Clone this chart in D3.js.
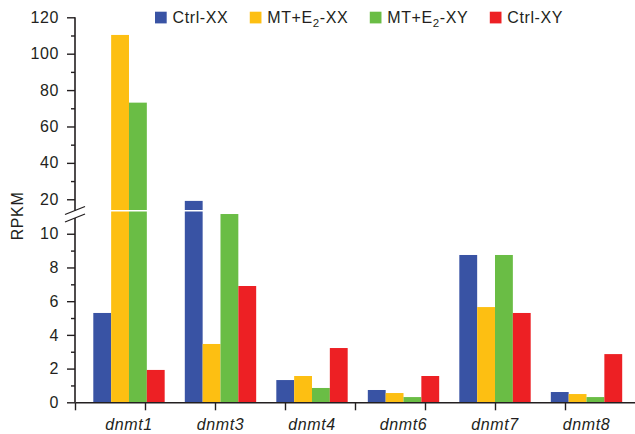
<!DOCTYPE html>
<html>
<head>
<meta charset="utf-8">
<script src="https://cdn.jsdelivr.net/npm/d3@7"></script>
<style>
body { margin: 0; background: #fff; }
text { font-family: "Liberation Sans", Arial, sans-serif; fill: #231f20; }
</style>
</head>
<body>
<div id="chart-area"></div>
<script>
// data
var genes = ["dnmt1", "dnmt3", "dnmt4", "dnmt6", "dnmt7", "dnmt8"];
var groups = ["Ctrl-XX", "MT+E2-XX", "MT+E2-XY", "Ctrl-XY"];
var ctrlXX = [5.3, 19.1, 1.32, 0.73, 8.74, 0.61];
var mtXX = [110.3, 3.46, 1.56, 0.55, 5.65, 0.49];
var mtXY = [73.1, 11.17, 0.85, 0.31, 8.74, 0.31];
var ctrlXY = [1.92, 6.9, 3.22, 1.56, 5.3, 2.86];
var lowTicks = [0, 2, 4, 6, 8, 10];
var lowMinor = [1, 3, 5, 7, 9];
var highTicks = [20, 40, 60, 80, 100, 120];
var highMinor = [30, 50, 70, 90, 110];

var colors = ["#3953a4", "#fdbf12", "#6abd45", "#ed2024"];
var series = [ctrlXX, mtXX, mtXY, ctrlXY];

var width = 635, height = 434;
var axisX = 75;
var ink = "#231f20";
var fs = "16px", ls = "0.6px";

var svg = d3.select("#chart-area").append("svg")
	.attr("width", width)
	.attr("height", height);

// broken y axis: two linear scales
var yLow = d3.scaleLinear().domain([0, 11.32]).range([402.3, 211.5]);
var yHigh = d3.scaleLinear().domain([14.1, 120]).range([210, 17.3]);

var x0 = d3.scaleBand()
	.domain(genes)
	.range([75, 640.5])
	.paddingInner(0.22)
	.paddingOuter(0.2);
var x1 = d3.scaleBand()
	.domain(groups)
	.range([0, x0.bandwidth()]);

// bars
var rows = [];
genes.forEach((g, i) => {
	groups.forEach((s, j) => {
		rows.push({gene: g, group: s, value: series[j][i], color: colors[j]});
	});
});

var bars = svg.append("g");
rows.forEach((d) => {
	var bx = x0(d.gene) + x1(d.group);
	var top = Math.min(d.value, yLow.domain()[1]);
	bars.append("rect")
		.attr("x", bx)
		.attr("y", yLow(top))
		.attr("width", x1.bandwidth())
		.attr("height", yLow(0) - yLow(top))
		.attr("fill", d.color);
	if (d.value > yLow.domain()[1]) {
		bars.append("rect")
			.attr("x", bx)
			.attr("y", yHigh(d.value))
			.attr("width", x1.bandwidth())
			.attr("height", yHigh.range()[0] - yHigh(d.value))
			.attr("fill", d.color);
	}
});

// y axes
function styleAxis(g) {
	g.select(".domain").remove();
	g.selectAll("line").attr("stroke", ink).attr("stroke-width", 1.4);
	g.selectAll("text")
		.style("font-size", fs)
		.style("letter-spacing", ls)
		.style("fill", ink);
}

svg.append("g")
	.attr("transform", "translate(" + axisX + ",0)")
	.call(d3.axisLeft(yLow).tickValues(lowTicks).tickSize(8).tickPadding(8).tickFormat(d3.format("d")))
	.call(styleAxis);
svg.append("g")
	.attr("transform", "translate(" + axisX + ",0)")
	.call(d3.axisLeft(yLow).tickValues(lowMinor).tickSize(4).tickFormat(""))
	.call(styleAxis);
svg.append("g")
	.attr("transform", "translate(" + axisX + ",0)")
	.call(d3.axisLeft(yHigh).tickValues(highTicks).tickSize(8).tickPadding(8).tickFormat(d3.format("d")))
	.call(styleAxis);
svg.append("g")
	.attr("transform", "translate(" + axisX + ",0)")
	.call(d3.axisLeft(yHigh).tickValues(highMinor).tickSize(4).tickFormat(""))
	.call(styleAxis);

// axis line with break
svg.append("line")
	.attr("x1", axisX).attr("x2", axisX)
	.attr("y1", yHigh(120)).attr("y2", 210.5)
	.attr("stroke", ink).attr("stroke-width", 1.6);
svg.append("line")
	.attr("x1", axisX).attr("x2", axisX)
	.attr("y1", 218).attr("y2", yLow(0))
	.attr("stroke", ink).attr("stroke-width", 1.6);
[210.5, 218].forEach((cy) => {
	svg.append("line")
		.attr("x1", axisX - 10).attr("y1", cy + 4)
		.attr("x2", axisX + 10).attr("y2", cy - 4)
		.attr("stroke", ink).attr("stroke-width", 1.3);
});

// x axis
var xTick = d3.scaleLinear().domain([0, 8]).range([axisX, width]);
var xAxis = svg.append("g")
	.attr("transform", "translate(0," + yLow(0) + ")")
	.call(d3.axisBottom(xTick).tickValues(d3.range(8)).tickSize(8).tickSizeOuter(0).tickFormat(""));
xAxis.select(".domain").attr("stroke", ink).attr("stroke-width", 1.6);
xAxis.selectAll("line").attr("stroke", ink).attr("stroke-width", 1.4);

svg.append("g").selectAll("text")
	.data(genes)
	.enter()
	.append("text")
	.attr("x", (d) => x0(d) + x0.bandwidth() / 2)
	.attr("y", 430)
	.attr("text-anchor", "middle")
	.style("font-size", fs)
	.style("font-style", "italic")
	.style("letter-spacing", ls)
	.text((d) => d);

// y title
svg.append("text")
	.attr("transform", "translate(22.5,216) rotate(-90)")
	.attr("text-anchor", "middle")
	.style("font-size", fs)
	.style("letter-spacing", ls)
	.text("RPKM");

// legend
var lx = 155;
groups.forEach((s, j) => {
	svg.append("rect")
		.attr("x", lx).attr("y", 11.7)
		.attr("width", 11.7).attr("height", 11.7)
		.attr("fill", colors[j]);
	var t = svg.append("text")
		.attr("x", lx + 17.5)
		.attr("y", 23)
		.style("font-size", fs)
		.style("letter-spacing", ls);
	var m = s.match(/^(.*E)2(.*)$/);
	if (m) {
		t.append("tspan").text(m[1]);
		t.append("tspan").attr("dy", 4).style("font-size", "11.5px").text("2");
		t.append("tspan").attr("dy", -4).text(m[2]);
	} else {
		t.text(s);
	}
	lx += 17.5 + t.node().getComputedTextLength() + 21.5;
});
</script>
</body>
</html>
